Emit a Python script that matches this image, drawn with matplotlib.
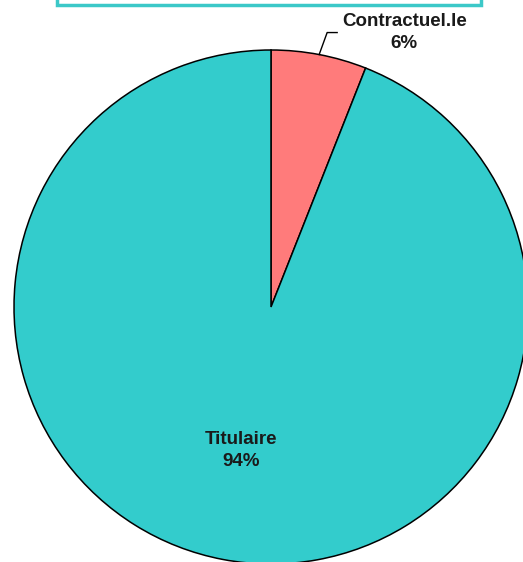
import matplotlib.pyplot as plt
import matplotlib.patches as mpatches
import numpy as np

plt.rcParams['font.family'] = ['Liberation Sans', 'DejaVu Sans']

# Répartition des agents par statut
statuts = ['Contractuel.le', 'Titulaire']
parts = [6, 94]
couleurs = ['#FF7B7B', '#33CCCC']

fig = plt.figure(figsize=(5.23, 5.62), dpi=100)
ax = fig.add_axes([0, 0, 1, 1])

centre = (271, 255)
rayon = 257
wedges, _ = ax.pie(parts, colors=couleurs, startangle=90, counterclock=False,
                   center=centre, radius=rayon, frame=True,
                   wedgeprops=dict(edgecolor='black', linewidth=1.1))
ax.set_xlim(0, 523)
ax.set_ylim(0, 562)
ax.set_aspect('equal')
ax.axis('off')

style = dict(fontsize=13.5, fontweight='bold', color='#1a1a1a', linespacing=1.4,
             ha='center', va='center')

# Étiquette de la petite part, avec trait de rappel
w = wedges[0]
ang = np.deg2rad((w.theta1 + w.theta2) / 2)
x0 = centre[0] + rayon * np.cos(ang)
y0 = centre[1] + rayon * np.sin(ang)
ax.plot([x0, x0 + 8, x0 + 18], [y0, y0 + 22, y0 + 22], color='black', lw=1)
ax.text(x0 + 85, y0 + 22, f"{statuts[0]}\n{parts[0]}%", **style)

# Étiquette de la grande part
w = wedges[1]
ang = np.deg2rad((w.theta1 + w.theta2) / 2)
ax.text(centre[0] + 0.63 * rayon * np.cos(ang), centre[1] + 0.57 * rayon * np.sin(ang),
        f"{statuts[1]}\n{parts[1]}%", **style)

# Cadre du titre
cadre = mpatches.Rectangle((57, 557), 424, 40, facecolor='white',
                           edgecolor='#3CC8C8', linewidth=2.5, clip_on=False)
ax.add_patch(cadre)
ax.text(269, 566, "Répartition par statut", ha='center', va='baseline',
        fontsize=13, color='#555555', clip_on=False)

fig.savefig('out.png', dpi=100)
